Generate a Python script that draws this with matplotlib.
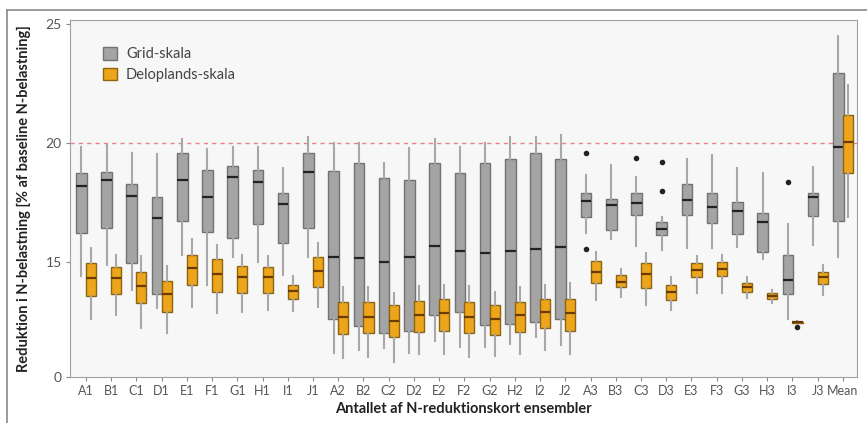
import numpy as np
import matplotlib
matplotlib.use("Agg")
import matplotlib.pyplot as plt
from matplotlib.patches import Patch
from matplotlib.lines import Line2D

plt.rcParams["font.family"] = ["Lato", "DejaVu Sans"]

# categories on the x axis
labels = ["A1", "B1", "C1", "D1", "E1", "F1", "G1", "H1", "I1", "J1",
          "A2", "B2", "C2", "D2", "E2", "F2", "G2", "H2", "I2", "J2",
          "A3", "B3", "C3", "D3", "E3", "F3", "G3", "H3", "I3", "J3", "Mean"]

# Grid-skala (grey) box statistics
grid_lo = [14.41, 14.87, 13.82, 13.07, 15.30, 14.03, 15.22, 15.00, 14.45, 15.22,
           11.20, 11.30, 11.39, 11.18, 11.68, 11.43, 11.43, 11.56, 11.85, 11.51,
           16.22, 15.97, 15.67, 15.50, 15.59, 15.59, 15.63, 15.13, 12.60, 15.71, 15.22]
grid_q1 = [16.22, 16.43, 14.96, 13.66, 16.72, 16.26, 16.00, 16.60, 15.80, 16.43,
           12.60, 12.31, 12.02, 12.10, 12.77, 12.90, 12.35, 12.39, 12.48, 12.60,
           16.90, 16.34, 16.97, 16.13, 16.97, 16.64, 16.18, 15.42, 13.66, 16.93, 16.72]
grid_med = [18.19, 18.45, 17.77, 16.85, 18.45, 17.73, 18.57, 18.36, 17.44, 18.78,
            15.20, 15.17, 15.00, 15.22, 15.67, 15.46, 15.37, 15.46, 15.54, 15.63,
            17.56, 17.40, 17.48, 16.39, 17.60, 17.31, 17.14, 16.68, 14.24, 17.73, 19.83]
grid_q3 = [18.74, 18.78, 18.30, 17.73, 19.58, 18.87, 19.03, 18.87, 17.90, 19.58,
           18.82, 19.16, 18.53, 18.45, 19.16, 18.74, 19.16, 19.33, 19.58, 19.33,
           17.90, 17.65, 17.90, 16.68, 18.30, 17.90, 17.52, 17.06, 15.30, 17.90, 22.94]
grid_hi = [19.83, 19.92, 19.58, 19.54, 20.17, 19.75, 19.83, 19.83, 18.95, 20.25,
           20.00, 20.00, 19.16, 19.79, 20.17, 19.83, 20.00, 20.25, 20.25, 20.34,
           18.66, 19.08, 18.57, 16.90, 19.33, 19.50, 18.95, 18.74, 16.60, 18.99, 24.50]
grid_out = {20: [19.58, 15.54], 22: [19.37], 23: [19.20, 17.98], 28: [18.36]}

# Deloplands-skala (orange) box statistics
delo_lo = [12.60, 12.77, 12.23, 12.02, 13.10, 12.86, 12.90, 12.98, 12.94, 13.10,
           10.96, 11.00, 10.80, 11.13, 11.13, 11.00, 11.05, 11.13, 11.30, 11.13,
           13.40, 13.53, 13.20, 12.98, 13.70, 13.70, 13.49, 13.28, 12.44, 13.61, 16.89]
delo_q1 = [13.57, 13.65, 13.28, 12.90, 14.03, 13.74, 13.70, 13.70, 13.45, 13.95,
           11.97, 12.02, 11.85, 12.06, 12.10, 12.02, 11.93, 12.06, 12.23, 12.10,
           14.12, 13.95, 13.90, 13.40, 14.37, 14.41, 13.74, 13.45, 12.45, 14.08, 18.74]
delo_med = [14.33, 14.33, 13.99, 13.66, 14.75, 14.50, 14.37, 14.37, 13.78, 14.62,
            12.69, 12.69, 12.52, 12.77, 12.86, 12.69, 12.60, 12.77, 12.90, 12.86,
            14.58, 14.16, 14.50, 13.74, 14.66, 14.70, 13.95, 13.57, 12.47, 14.37, 20.04]
delo_q3 = [14.96, 14.80, 14.58, 14.20, 15.30, 15.13, 14.83, 14.80, 14.03, 15.22,
           13.32, 13.32, 13.20, 13.36, 13.45, 13.32, 13.20, 13.32, 13.45, 13.45,
           15.04, 14.45, 14.96, 14.03, 14.96, 15.00, 14.12, 13.70, 12.49, 14.58, 21.18]
delo_hi = [15.59, 15.30, 15.25, 14.83, 15.97, 15.71, 15.30, 15.25, 14.41, 15.80,
           13.95, 13.95, 13.70, 13.99, 14.03, 13.99, 13.74, 13.95, 14.03, 14.12,
           15.42, 14.70, 15.38, 14.37, 15.25, 15.30, 14.37, 13.82, 12.52, 14.87, 22.44]
delo_out = {28: [12.27]}

baseline = 20

def make_stats(lo, q1, med, q3, hi, out):
    stats = []
    for i in range(len(lo)):
        stats.append(dict(whislo=lo[i], q1=q1[i], med=med[i], q3=q3[i],
                          whishi=hi[i], fliers=out.get(i, [])))
    return stats

fig = plt.figure(figsize=(8.67, 4.23), dpi=100, facecolor="white")
ax = fig.add_axes([0.0807, 0.1087, 0.9078, 0.844])
ax.set_facecolor("#f7f7f7")

x = np.arange(len(labels))

ax.axhline(baseline, color="#e8808a", ls=(0, (3, 3)), lw=1.0, zorder=1)

ax.bxp(make_stats(grid_lo, grid_q1, grid_med, grid_q3, grid_hi, grid_out),
       positions=x - 0.18, widths=0.42, patch_artist=True, showcaps=False,
       boxprops=dict(facecolor="#a4a4a4", edgecolor="#727272", lw=1.0),
       medianprops=dict(color="#222222", lw=1.6),
       whiskerprops=dict(color="#a8a8a8", lw=1.5),
       flierprops=dict(marker="o", markersize=3, markerfacecolor="#222222",
                       markeredgecolor="#222222"),
       zorder=2)

ax.bxp(make_stats(delo_lo, delo_q1, delo_med, delo_q3, delo_hi, delo_out),
       positions=x + 0.2, widths=0.40, patch_artist=True, showcaps=False,
       boxprops=dict(facecolor="#eda51c", edgecolor="#8d6410", lw=1.0),
       medianprops=dict(color="#6a3a06", lw=1.6),
       whiskerprops=dict(color="#a8a8a8", lw=1.5),
       flierprops=dict(marker="o", markersize=3, markerfacecolor="#222222",
                       markeredgecolor="#222222"),
       zorder=3)

ax.set_xlim(-0.63, 30.56)
ax.set_ylim(10.17, 25.17)
ax.set_xticks(x)
ax.set_xticklabels(labels, fontsize=9, color="#555555")
ax.set_yticks([10.17, 15, 20, 25])
ax.set_yticklabels(["0", "15", "20", "25"], fontsize=10, color="#555555")
ax.tick_params(axis="both", length=3, color="#888888", pad=3)
for s in ax.spines.values():
    s.set_color("#a0a0a0")

ax.set_ylabel("Reduktion i N-belastning [% af baseline N-belastning]",
              fontsize=10.5, fontweight="bold", color="#222222", labelpad=10)
ax.set_xlabel("Antallet af N-reduktionskort ensembler",
              fontsize=10.5, fontweight="bold", color="#222222", labelpad=3)

handles = [Patch(facecolor="#a4a4a4", edgecolor="#727272", label="Grid-skala"),
           Patch(facecolor="#eda51c", edgecolor="#8d6410", label="Deloplands-skala")]
leg = ax.legend(handles=handles, loc="upper left", bbox_to_anchor=(0.025, 0.96),
                frameon=False, fontsize=10.5, handlelength=1.0, handleheight=0.9,
                labelspacing=0.45, handletextpad=0.6)
for t in leg.get_texts():
    t.set_color("#444444")

# outer frame around the figure
fig.add_artist(Line2D([7 / 867, 1], [1 - 10 / 423, 1 - 10 / 423],
                      transform=fig.transFigure, color="#8a8a8a", lw=1.2))
fig.add_artist(Line2D([7 / 867, 7 / 867], [0, 1 - 10 / 423],
                      transform=fig.transFigure, color="#8a8a8a", lw=1.2))

fig.savefig("out.png", dpi=100)
